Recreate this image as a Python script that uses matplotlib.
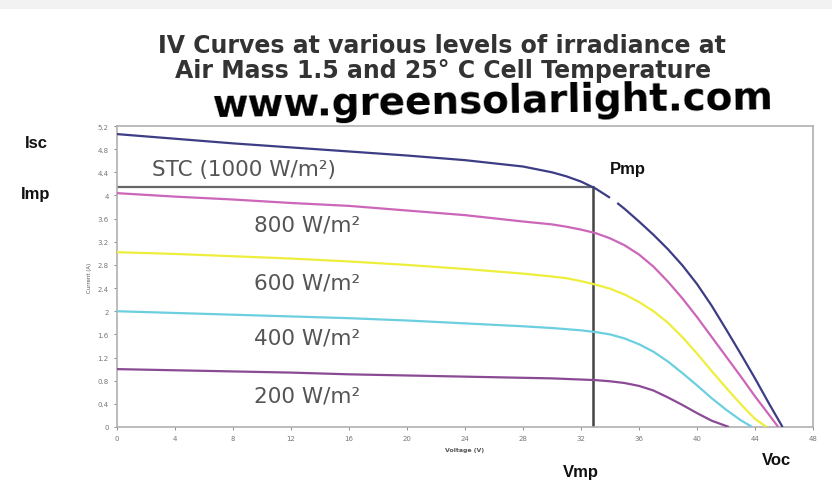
import matplotlib.pyplot as plt
from matplotlib.patches import Rectangle
import numpy as np

nan = np.nan

# IV curves: voltage (V) and current (A)
stc_v = [0, 4, 8, 12, 16, 20, 24, 28, 30, 31, 32, 33, 34, nan, 34.5, 35, 36, 37, 38, 39, 40, 41, 42, 43, 44, 45, 45.9]
stc_i = [5.06, 4.98, 4.90, 4.83, 4.76, 4.69, 4.61, 4.50, 4.40, 4.33, 4.24, 4.12, 3.96, nan, 3.87, 3.77, 3.55, 3.32, 3.07, 2.79, 2.47, 2.10, 1.69, 1.27, 0.84, 0.39, 0]

w800_v = [0, 4, 8, 12, 16, 20, 24, 28, 30, 31, 32, 33, 34, 35, 36, 37, 38, 39, 40, 41, 42, 43, 44, 45, 45.6]
w800_i = [4.04, 3.98, 3.93, 3.87, 3.82, 3.74, 3.66, 3.55, 3.50, 3.46, 3.41, 3.35, 3.26, 3.14, 2.98, 2.77, 2.51, 2.22, 1.90, 1.56, 1.22, 0.88, 0.53, 0.20, 0]

w600_v = [0, 4, 8, 12, 16, 20, 24, 28, 30, 31, 32, 33, 34, 35, 36, 37, 38, 39, 40, 41, 42, 43, 44, 44.8]
w600_i = [3.02, 2.99, 2.95, 2.91, 2.86, 2.80, 2.73, 2.65, 2.60, 2.57, 2.52, 2.46, 2.39, 2.29, 2.16, 2.00, 1.80, 1.55, 1.27, 0.97, 0.68, 0.40, 0.14, 0]

w400_v = [0, 4, 8, 12, 16, 20, 24, 28, 30, 32, 33, 34, 35, 36, 37, 38, 39, 40, 41, 42, 43, 43.8]
w400_i = [2.00, 1.97, 1.94, 1.91, 1.88, 1.84, 1.79, 1.74, 1.71, 1.67, 1.64, 1.60, 1.53, 1.43, 1.30, 1.13, 0.93, 0.72, 0.50, 0.30, 0.12, 0]

w200_v = [0, 4, 8, 12, 16, 20, 24, 28, 30, 32, 33, 34, 35, 36, 37, 38, 39, 40, 41, 42.2]
w200_i = [1.00, 0.98, 0.96, 0.94, 0.91, 0.89, 0.87, 0.85, 0.84, 0.82, 0.81, 0.79, 0.76, 0.71, 0.63, 0.51, 0.38, 0.24, 0.11, 0]

curve_labels = ["STC (1000 W/m²)", "800 W/m²", "600 W/m²", "400 W/m²", "200 W/m²"]
curve_colors = ["#3d3d85", "#cc66b8", "#eeee3c", "#6ccfe0", "#8a4a94"]
label_pos = [(2.4, 4.46, "left"), (16.8, 3.49, "right"), (16.8, 2.50, "right"),
             (16.8, 1.54, "right"), (16.8, 0.54, "right")]

v_mp = 32.8
i_mp = 4.15

x_ticks = list(range(0, 49, 4))
y_ticks = [0, 0.4, 0.8, 1.2, 1.6, 2, 2.4, 2.8, 3.2, 3.6, 4, 4.4, 4.8, 5.2]

plt.rcParams['font.family'] = ['DejaVu Sans']

fig = plt.figure(figsize=(8.32, 4.89), dpi=100)
fig.patch.set_facecolor("white")
fig.patches.append(Rectangle((0, 1 - 10 / 489), 1, 10 / 489, transform=fig.transFigure,
                             facecolor="#f2f2f2", edgecolor="none", zorder=0))

ax = fig.add_axes([117 / 832, 1 - 428 / 489, 696 / 832, 301 / 489])

series = [(stc_v, stc_i), (w800_v, w800_i), (w600_v, w600_i), (w400_v, w400_i), (w200_v, w200_i)]
for (v, i), color in zip(series, curve_colors):
    ax.plot(v, i, color=color, lw=1.6, solid_capstyle="butt", solid_joinstyle="round", zorder=3)

# max power point guides
ax.plot([0, v_mp], [i_mp, i_mp], color="#666666", lw=1.6, zorder=2)
ax.plot([v_mp, v_mp], [0, i_mp], color="#444444", lw=1.8, zorder=2)

for text, (x, y, ha) in zip(curve_labels, label_pos):
    ax.text(x, y, text, ha=ha, va="center", fontsize=15.5, color="#555555")

ax.set_xlim(0, 48)
ax.set_ylim(0, 5.2)
ax.set_xticks(x_ticks)
ax.set_yticks(y_ticks)
ax.set_xticklabels([str(t) for t in x_ticks])
ax.set_yticklabels([f"{t:g}" for t in y_ticks])
ax.tick_params(labelsize=5, colors="#777777", length=2, width=0.6, pad=4)
for s in ax.spines.values():
    s.set_color("#b0b0b0")
    s.set_linewidth(1.2)

ax.set_xlabel("Voltage (V)", fontsize=4.5, color="#555555", fontweight="bold", labelpad=4)
ax.set_ylabel("Current (A)", fontsize=4, color="#555555", labelpad=4)

fig.text(442 / 832, 1 - 53 / 489, "IV Curves at various levels of irradiance at",
         ha="center", va="baseline", fontsize=17, fontweight="bold", color="#333333")
fig.text(443 / 832, 1 - 78 / 489, "Air Mass 1.5 and 25° C Cell Temperature",
         ha="center", va="baseline", fontsize=17, fontweight="bold", color="#333333")
fig.text(493 / 832, 1 - 117 / 489, "www.greensolarlight.com", ha="center", va="baseline",
         fontsize=28, fontweight="bold", color="black", rotation=0.8)

marker_kw = dict(ha="center", va="center", fontsize=12, fontweight="bold", color="#111111",
                 family=["Liberation Sans", "DejaVu Sans"])
fig.text(36 / 832, 1 - 143 / 489, "Isc", **marker_kw)
fig.text(36 / 832, 1 - 195 / 489, "Imp", **marker_kw)
fig.text(628 / 832, 1 - 170 / 489, "Pmp", **marker_kw)
fig.text(581 / 832, 1 - 472 / 489, "Vmp", **marker_kw)
fig.text(777 / 832, 1 - 461 / 489, "Voc", **marker_kw)

fig.savefig("out.png", dpi=100)
